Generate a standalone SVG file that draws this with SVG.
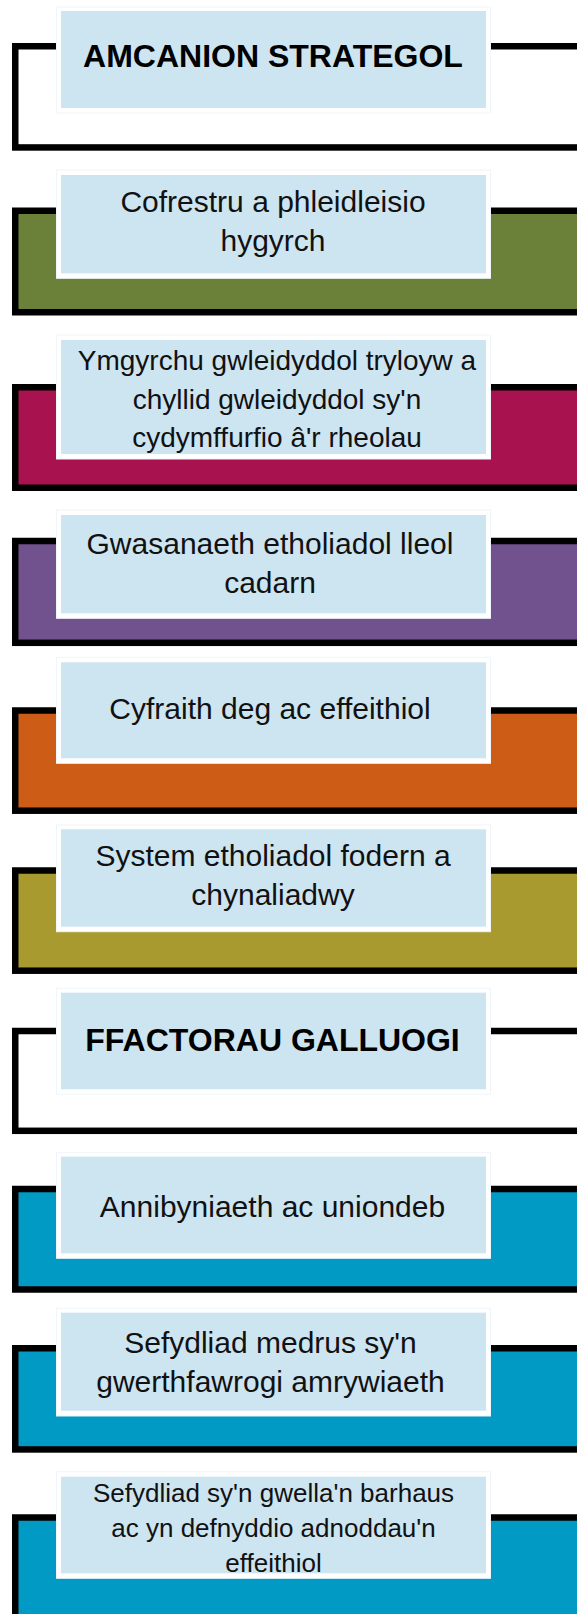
<svg xmlns="http://www.w3.org/2000/svg" width="577" height="1614" viewBox="0 0 577 1614">
<style>
.frame{stroke:#000;stroke-width:6.5}
.lw{fill:#ffffff;stroke:#eef6fb;stroke-width:1}
.lb{fill:#cde4f1}
.t{font-family:"Liberation Sans",Arial,sans-serif;font-size:30px;fill:#111;text-anchor:middle}
.h{font-family:"Liberation Sans",Arial,sans-serif;font-size:32px;font-weight:bold;fill:#000;text-anchor:middle}
</style>
<rect width="577" height="1614" fill="#ffffff"/>
<g id="frames">
<rect class="frame" x="15.25" y="46.25" width="600" height="101.2" fill="#ffffff"/>
<rect class="frame" x="15.25" y="210.75" width="600" height="101.5" fill="#6b813a"/>
<rect class="frame" x="15.25" y="387.25" width="600" height="100.5" fill="#a8134f"/>
<rect class="frame" x="15.25" y="541" width="600" height="101.8" fill="#71528f"/>
<rect class="frame" x="15.25" y="710.5" width="600" height="100.2" fill="#cd5c17"/>
<rect class="frame" x="15.25" y="870.5" width="600" height="100.2" fill="#a89a2e"/>
<rect class="frame" x="15.25" y="1031" width="600" height="99.8" fill="#ffffff"/>
<rect class="frame" x="15.25" y="1189" width="600" height="100.5" fill="#009ac4"/>
<rect class="frame" x="15.25" y="1348.25" width="600" height="101.2" fill="#009ac4"/>
<rect class="frame" x="15.25" y="1517.5" width="600" height="200" fill="#009ac4"/>
</g>
<g id="n1">
<rect class="lw" x="56.5" y="7" width="434" height="106"/>
<rect class="lb" x="61" y="11" width="425" height="97"/>
<text class="h" x="273" y="67">AMCANION STRATEGOL</text>
</g>
<g id="n2">
<rect class="lw" x="56.5" y="170" width="434" height="108.3"/>
<rect class="lb" x="61" y="175" width="425" height="98.3"/>
<text class="t" x="273" y="212">Cofrestru a phleidleisio</text>
<text class="t" x="273" y="251">hygyrch</text>
</g>
<g id="n3">
<rect class="lw" x="56.5" y="335" width="434" height="124"/>
<rect class="lb" x="61" y="340" width="425" height="114"/>
<text class="t" x="277" y="369.5" style="font-size:28px">Ymgyrchu gwleidyddol tryloyw a</text>
<text class="t" x="277" y="408.5" style="font-size:28px">chyllid gwleidyddol sy'n</text>
<text class="t" x="277" y="447" style="font-size:28px">cydymffurfio â'r rheolau</text>
</g>
<g id="n4">
<rect class="lw" x="56.5" y="510" width="434" height="108.3"/>
<rect class="lb" x="61" y="515" width="425" height="98.3"/>
<text class="t" x="270" y="554">Gwasanaeth etholiadol lleol</text>
<text class="t" x="270" y="593">cadarn</text>
</g>
<g id="n5">
<rect class="lw" x="56.5" y="657.3" width="434" height="106"/>
<rect class="lb" x="61" y="662.3" width="425" height="96"/>
<text class="t" x="270" y="718.5">Cyfraith deg ac effeithiol</text>
</g>
<g id="n6">
<rect class="lw" x="56.5" y="825" width="434" height="106.7"/>
<rect class="lb" x="61" y="829.3" width="425" height="97.4"/>
<text class="t" x="273" y="866">System etholiadol fodern a</text>
<text class="t" x="273" y="905">chynaliadwy</text>
</g>
<g id="n7">
<rect class="lw" x="56.5" y="988.3" width="434" height="106"/>
<rect class="lb" x="61" y="992.7" width="425" height="96.6"/>
<text class="h" x="272.5" y="1051">FFACTORAU GALLUOGI</text>
</g>
<g id="n8">
<rect class="lw" x="56.5" y="1152.7" width="434" height="105.6"/>
<rect class="lb" x="61" y="1156.7" width="425" height="96.6"/>
<text class="t" x="272.5" y="1216.5">Annibyniaeth ac uniondeb</text>
</g>
<g id="n9">
<rect class="lw" x="56.5" y="1308.3" width="434" height="107.7"/>
<rect class="lb" x="61" y="1312.7" width="425" height="98"/>
<text class="t" x="270.5" y="1353">Sefydliad medrus sy'n</text>
<text class="t" x="270.5" y="1392">gwerthfawrogi amrywiaeth</text>
</g>
<g id="n10">
<rect class="lw" x="56.5" y="1471.7" width="434" height="106.6"/>
<rect class="lb" x="61" y="1476.7" width="425" height="96.6"/>
<text class="t" x="273.5" y="1502" style="font-size:26px">Sefydliad sy'n gwella'n barhaus</text>
<text class="t" x="273.5" y="1537" style="font-size:26px">ac yn defnyddio adnoddau'n</text>
<text class="t" x="273.5" y="1572" style="font-size:26px">effeithiol</text>
</g>
</svg>
